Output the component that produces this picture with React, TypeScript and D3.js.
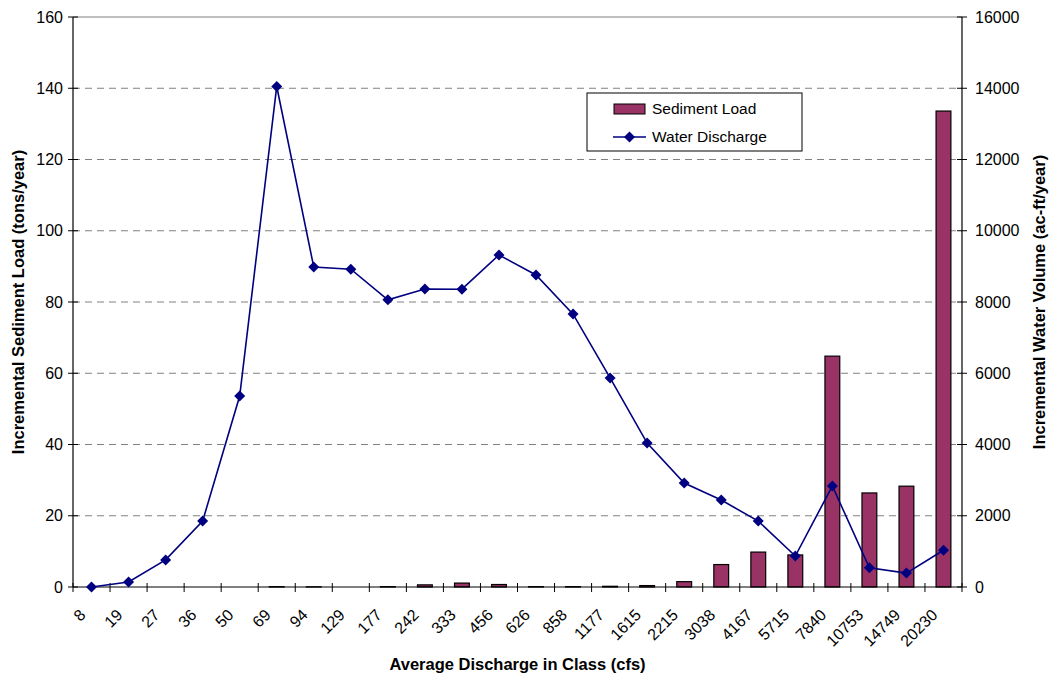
import * as d3 from 'd3';

// average discharge classes (cfs)
const classes = ['8', '19', '27', '36', '50', '69', '94', '129', '177', '242', '333', '456', '626', '858', '1177', '1615', '2215', '3038', '4167', '5715', '7840', '10753', '14749', '20230'];

// incremental sediment load (tons/year)
const sedimentLoad = [0, 0, 0, 0, 0, 0.1, 0.05, 0, 0.1, 0.6, 1.1, 0.7, 0.1, 0.1, 0.2, 0.4, 1.5, 6.3, 9.8, 9.0, 64.8, 26.4, 28.3, 133.6];

// incremental water volume (ac-ft/year)
const waterVolume = [0, 140, 760, 1850, 5360, 14050, 8980, 8920, 8060, 8365, 8360, 9320, 8760, 7660, 5870, 4040, 2920, 2440, 1850, 870, 2835, 540, 390, 1030];

const leftTicks = [0, 20, 40, 60, 80, 100, 120, 140, 160];
const rightTicks = [0, 2000, 4000, 6000, 8000, 10000, 12000, 14000, 16000];

const W = 1049, H = 682;
const m = { top: 17, right: 87, bottom: 95, left: 73 };
const font = '"Liberation Sans", Arial, sans-serif';
const barColor = '#993366';
const lineColor = '#000080';

const diamond = 'M0,-5.5L5.5,0L0,5.5L-5.5,0Z';

export default function App() {
  const x = d3.scaleBand().domain(classes).range([m.left, W - m.right]);
  const yL = d3.scaleLinear().domain([0, 160]).range([H - m.bottom, m.top]);
  const yR = d3.scaleLinear().domain([0, 16000]).range([H - m.bottom, m.top]);
  const cx = (c: string) => (x(c) as number) + x.bandwidth() / 2;
  const barW = x.bandwidth() * 0.4;
  const x0 = m.left, x1 = W - m.right, yb = H - m.bottom;

  const line = d3.line<number>()
    .x((_, i) => cx(classes[i]))
    .y((d) => yR(d));

  const boundaries = classes.map((c) => x(c) as number).concat([x1]);

  return (
    <svg width={W} height={H} style={{ position: 'absolute', left: 0, top: 0, background: '#fff' }} fontFamily={font}>
      {/* gridlines */}
      {leftTicks.filter((t) => t > 0 && t < 160).map((t) => (
        <line key={'g' + t} x1={x0} x2={x1} y1={yL(t)} y2={yL(t)} stroke="#808080" strokeDasharray="7,5" />
      ))}
      <line x1={x0} x2={x1} y1={yL(160)} y2={yL(160)} stroke="#808080" />

      {/* bars */}
      {sedimentLoad.map((v, i) => (
        <rect key={'b' + i} x={cx(classes[i]) - barW / 2} y={yL(v)} width={barW} height={yb - yL(v)}
          fill={barColor} stroke="#000" strokeWidth={1.2} />
      ))}

      {/* axes */}
      <line x1={x0} x2={x0} y1={m.top} y2={yb} stroke="#000" strokeWidth={1.2} />
      <line x1={x1} x2={x1} y1={m.top} y2={yb} stroke="#000" strokeWidth={1.2} />
      <line x1={x0} x2={x1} y1={yb} y2={yb} stroke="#000" strokeWidth={1.2} />

      {leftTicks.map((t) => (
        <g key={'l' + t}>
          <line x1={x0 - 5} x2={x0 + 5} y1={yL(t)} y2={yL(t)} stroke="#000" />
          <text x={x0 - 10} y={yL(t)} dy="0.35em" textAnchor="end" fontSize={16}>{t}</text>
        </g>
      ))}
      {rightTicks.map((t) => (
        <g key={'r' + t}>
          <line x1={x1 - 5} x2={x1 + 5} y1={yR(t)} y2={yR(t)} stroke="#000" />
          <text x={x1 + 13} y={yR(t)} dy="0.35em" textAnchor="start" fontSize={16}>{t}</text>
        </g>
      ))}
      {boundaries.map((b, i) => (
        <line key={'t' + i} x1={b} x2={b} y1={yb - 4} y2={yb + 5} stroke="#000" />
      ))}
      {classes.map((c) => (
        <text key={'x' + c} transform={`translate(${cx(c) - 9},${yb + 25}) rotate(-45)`} dy="0.35em"
          textAnchor="end" fontSize={16}>{c}</text>
      ))}

      {/* water discharge line */}
      <path d={line(waterVolume) as string} fill="none" stroke={lineColor} strokeWidth={1.6} />
      {waterVolume.map((v, i) => (
        <path key={'d' + i} d={diamond} transform={`translate(${cx(classes[i])},${yR(v)})`} fill={lineColor} />
      ))}

      {/* axis titles */}
      <text x={(x0 + x1) / 2} y={670} textAnchor="middle" fontSize={16.5} fontWeight="bold">Average Discharge in Class (cfs)</text>
      <text transform={`translate(24,${(m.top + yb) / 2}) rotate(-90)`} textAnchor="middle" fontSize={16.5} fontWeight="bold">Incremental Sediment Load (tons/year)</text>
      <text transform={`translate(1045,${(m.top + yb) / 2}) rotate(-90)`} textAnchor="middle" fontSize={16.5} fontWeight="bold">Incremental Water Volume (ac-ft/year)</text>

      {/* legend */}
      <g>
        <rect x={587} y={93} width={215} height={58} fill="#fff" stroke="#000" />
        <rect x={614} y={104} width={31} height={10} fill={barColor} stroke="#000" />
        <text x={652} y={109} dy="0.35em" fontSize={15.5}>Sediment Load</text>
        <line x1={613} x2={646} y1={137} y2={137} stroke={lineColor} strokeWidth={1.6} />
        <path d={diamond} transform="translate(629.5,137)" fill={lineColor} />
        <text x={652} y={137} dy="0.35em" fontSize={15.5}>Water Discharge</text>
      </g>
    </svg>
  );
}
